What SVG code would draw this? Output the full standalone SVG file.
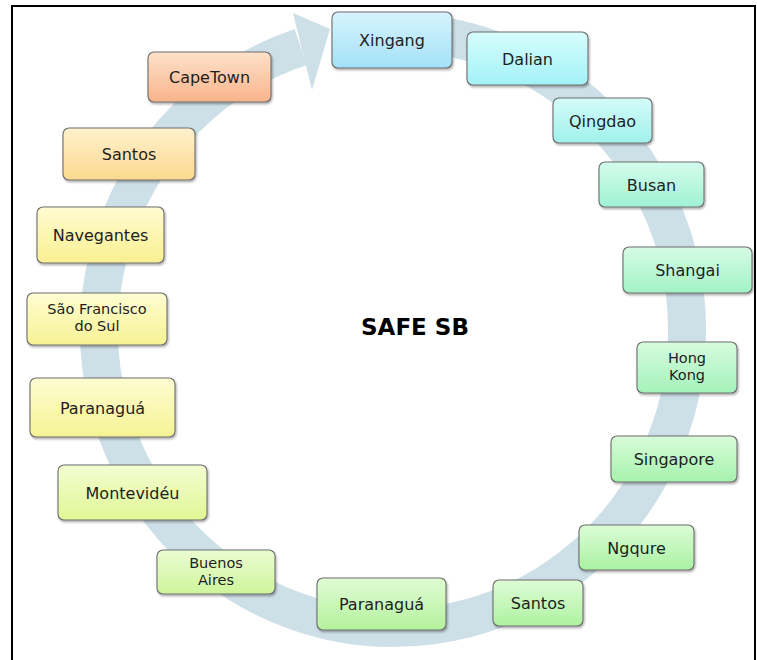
<svg xmlns="http://www.w3.org/2000/svg" width="757" height="660" viewBox="0 0 757 660">
  <defs>
    <style>
      .frame { fill: none; stroke: #000; stroke-width: 2; }
      .band { fill: none; stroke: #cddfe7; stroke-width: 38; }
      .head { fill: #cddfe7; }
      .box { stroke: #6e6e6e; stroke-width: 1.1; filter: url(#shadow); }
      .lbl { font-family: "DejaVu Sans", Verdana, sans-serif; font-size: 16px; fill: #1e1e1e; text-anchor: middle; }
      .lbl2 { font-family: "DejaVu Sans", Verdana, sans-serif; font-size: 14.5px; fill: #1e1e1e; text-anchor: middle; }
      .title { font-family: "DejaVu Sans", Verdana, sans-serif; font-size: 23px; font-weight: bold; fill: #000; text-anchor: middle; }
    </style>
    <filter id="shadow" x="-10%" y="-10%" width="125%" height="135%">
      <feDropShadow dx="1" dy="1.6" stdDeviation="1.2" flood-color="#000" flood-opacity="0.35"/>
    </filter>
    <linearGradient id="g1" x1="0" y1="0" x2="0" y2="1"><stop offset="0" stop-color="#d6f4fd"/><stop offset="1" stop-color="#a3e1f8"/></linearGradient>
    <linearGradient id="g2" x1="0" y1="0" x2="0" y2="1"><stop offset="0" stop-color="#d8fdfd"/><stop offset="1" stop-color="#a2f2f7"/></linearGradient>
    <linearGradient id="g3" x1="0" y1="0" x2="0" y2="1"><stop offset="0" stop-color="#d4fcf8"/><stop offset="1" stop-color="#a0f1ec"/></linearGradient>
    <linearGradient id="g4" x1="0" y1="0" x2="0" y2="1"><stop offset="0" stop-color="#d4fcec"/><stop offset="1" stop-color="#a0f2d5"/></linearGradient>
    <linearGradient id="g5" x1="0" y1="0" x2="0" y2="1"><stop offset="0" stop-color="#d6fce6"/><stop offset="1" stop-color="#a2f2c5"/></linearGradient>
    <linearGradient id="g6" x1="0" y1="0" x2="0" y2="1"><stop offset="0" stop-color="#d6fcde"/><stop offset="1" stop-color="#a4f2bb"/></linearGradient>
    <linearGradient id="g7" x1="0" y1="0" x2="0" y2="1"><stop offset="0" stop-color="#d8fcd8"/><stop offset="1" stop-color="#a6f2ad"/></linearGradient>
    <linearGradient id="g8" x1="0" y1="0" x2="0" y2="1"><stop offset="0" stop-color="#dcfcd6"/><stop offset="1" stop-color="#aaf2a3"/></linearGradient>
    <linearGradient id="g9" x1="0" y1="0" x2="0" y2="1"><stop offset="0" stop-color="#defcd6"/><stop offset="1" stop-color="#aef2a1"/></linearGradient>
    <linearGradient id="g10" x1="0" y1="0" x2="0" y2="1"><stop offset="0" stop-color="#e0fcd4"/><stop offset="1" stop-color="#b4f29d"/></linearGradient>
    <linearGradient id="g11" x1="0" y1="0" x2="0" y2="1"><stop offset="0" stop-color="#eafcd2"/><stop offset="1" stop-color="#cef59b"/></linearGradient>
    <linearGradient id="g12" x1="0" y1="0" x2="0" y2="1"><stop offset="0" stop-color="#f4fdd2"/><stop offset="1" stop-color="#e0f795"/></linearGradient>
    <linearGradient id="g13" x1="0" y1="0" x2="0" y2="1"><stop offset="0" stop-color="#fdfdd2"/><stop offset="1" stop-color="#f6f394"/></linearGradient>
    <linearGradient id="g14" x1="0" y1="0" x2="0" y2="1"><stop offset="0" stop-color="#fefdd2"/><stop offset="1" stop-color="#f8f294"/></linearGradient>
    <linearGradient id="g15" x1="0" y1="0" x2="0" y2="1"><stop offset="0" stop-color="#fffcd2"/><stop offset="1" stop-color="#faef90"/></linearGradient>
    <linearGradient id="g16" x1="0" y1="0" x2="0" y2="1"><stop offset="0" stop-color="#fff1ce"/><stop offset="1" stop-color="#fcd98e"/></linearGradient>
    <linearGradient id="g17" x1="0" y1="0" x2="0" y2="1"><stop offset="0" stop-color="#ffe1ca"/><stop offset="1" stop-color="#f8b48b"/></linearGradient>
  </defs>

  <rect width="757" height="660" fill="#fff"/>
  <rect class="frame" x="12" y="6" width="743" height="700"/>

  <!-- circular route arrow -->
  <g id="connectors">
    <path class="band" d="M 409.9 32.5 A 294 298 0 1 1 300.7 47.1"/>
    <polygon class="head" points="293,13 330,29 312,90"/>
  </g>

  <text class="title" x="415" y="335">SAFE SB</text>

  <g id="node-xingang">
    <rect class="box" x="332" y="12" width="120" height="56" rx="6" fill="url(#g1)"/>
    <text class="lbl" x="392" y="46">Xingang</text>
  </g>
  <g id="node-dalian">
    <rect class="box" x="467" y="32" width="121" height="53" rx="6" fill="url(#g2)"/>
    <text class="lbl" x="527.5" y="64.5">Dalian</text>
  </g>
  <g id="node-qingdao">
    <rect class="box" x="553" y="98" width="99" height="45" rx="6" fill="url(#g3)"/>
    <text class="lbl" x="602.5" y="126.5">Qingdao</text>
  </g>
  <g id="node-busan">
    <rect class="box" x="599" y="162" width="105" height="45" rx="6" fill="url(#g4)"/>
    <text class="lbl" x="651.5" y="190.5">Busan</text>
  </g>
  <g id="node-shangai">
    <rect class="box" x="623" y="247" width="129" height="46" rx="6" fill="url(#g5)"/>
    <text class="lbl" x="687.5" y="276">Shangai</text>
  </g>
  <g id="node-hongkong">
    <rect class="box" x="637" y="342" width="100" height="51" rx="6" fill="url(#g6)"/>
    <text class="lbl2" x="687" y="363">Hong</text>
    <text class="lbl2" x="687" y="380">Kong</text>
  </g>
  <g id="node-singapore">
    <rect class="box" x="611" y="436" width="126" height="46" rx="6" fill="url(#g7)"/>
    <text class="lbl" x="674" y="465">Singapore</text>
  </g>
  <g id="node-ngqure">
    <rect class="box" x="579" y="525" width="115" height="45" rx="6" fill="url(#g8)"/>
    <text class="lbl" x="636.5" y="553.5">Ngqure</text>
  </g>
  <g id="node-santos-2">
    <rect class="box" x="493" y="580" width="90" height="46" rx="6" fill="url(#g9)"/>
    <text class="lbl" x="538" y="609">Santos</text>
  </g>
  <g id="node-paranagua-2">
    <rect class="box" x="317" y="578" width="129" height="52" rx="6" fill="url(#g10)"/>
    <text class="lbl" x="381.5" y="610">Paranaguá</text>
  </g>
  <g id="node-buenosaires">
    <rect class="box" x="157" y="550" width="118" height="44" rx="6" fill="url(#g11)"/>
    <text class="lbl2" x="216" y="568">Buenos</text>
    <text class="lbl2" x="216" y="585">Aires</text>
  </g>
  <g id="node-montevideu">
    <rect class="box" x="58" y="465" width="149" height="55" rx="6" fill="url(#g12)"/>
    <text class="lbl" x="132.5" y="498.5">Montevidéu</text>
  </g>
  <g id="node-paranagua-1">
    <rect class="box" x="30" y="378" width="145" height="59" rx="6" fill="url(#g13)"/>
    <text class="lbl" x="102.5" y="413.5">Paranaguá</text>
  </g>
  <g id="node-saofrancisco">
    <rect class="box" x="27" y="293" width="140" height="52" rx="6" fill="url(#g14)"/>
    <text class="lbl2" x="97" y="314">São Francisco</text>
    <text class="lbl2" x="97" y="331">do Sul</text>
  </g>
  <g id="node-navegantes">
    <rect class="box" x="37" y="207" width="127" height="56" rx="6" fill="url(#g15)"/>
    <text class="lbl" x="100.5" y="241">Navegantes</text>
  </g>
  <g id="node-santos-1">
    <rect class="box" x="63" y="128" width="132" height="52" rx="6" fill="url(#g16)"/>
    <text class="lbl" x="129" y="160">Santos</text>
  </g>
  <g id="node-capetown">
    <rect class="box" x="148" y="52" width="123" height="50" rx="6" fill="url(#g17)"/>
    <text class="lbl" x="209.5" y="83">CapeTown</text>
  </g>
</svg>
